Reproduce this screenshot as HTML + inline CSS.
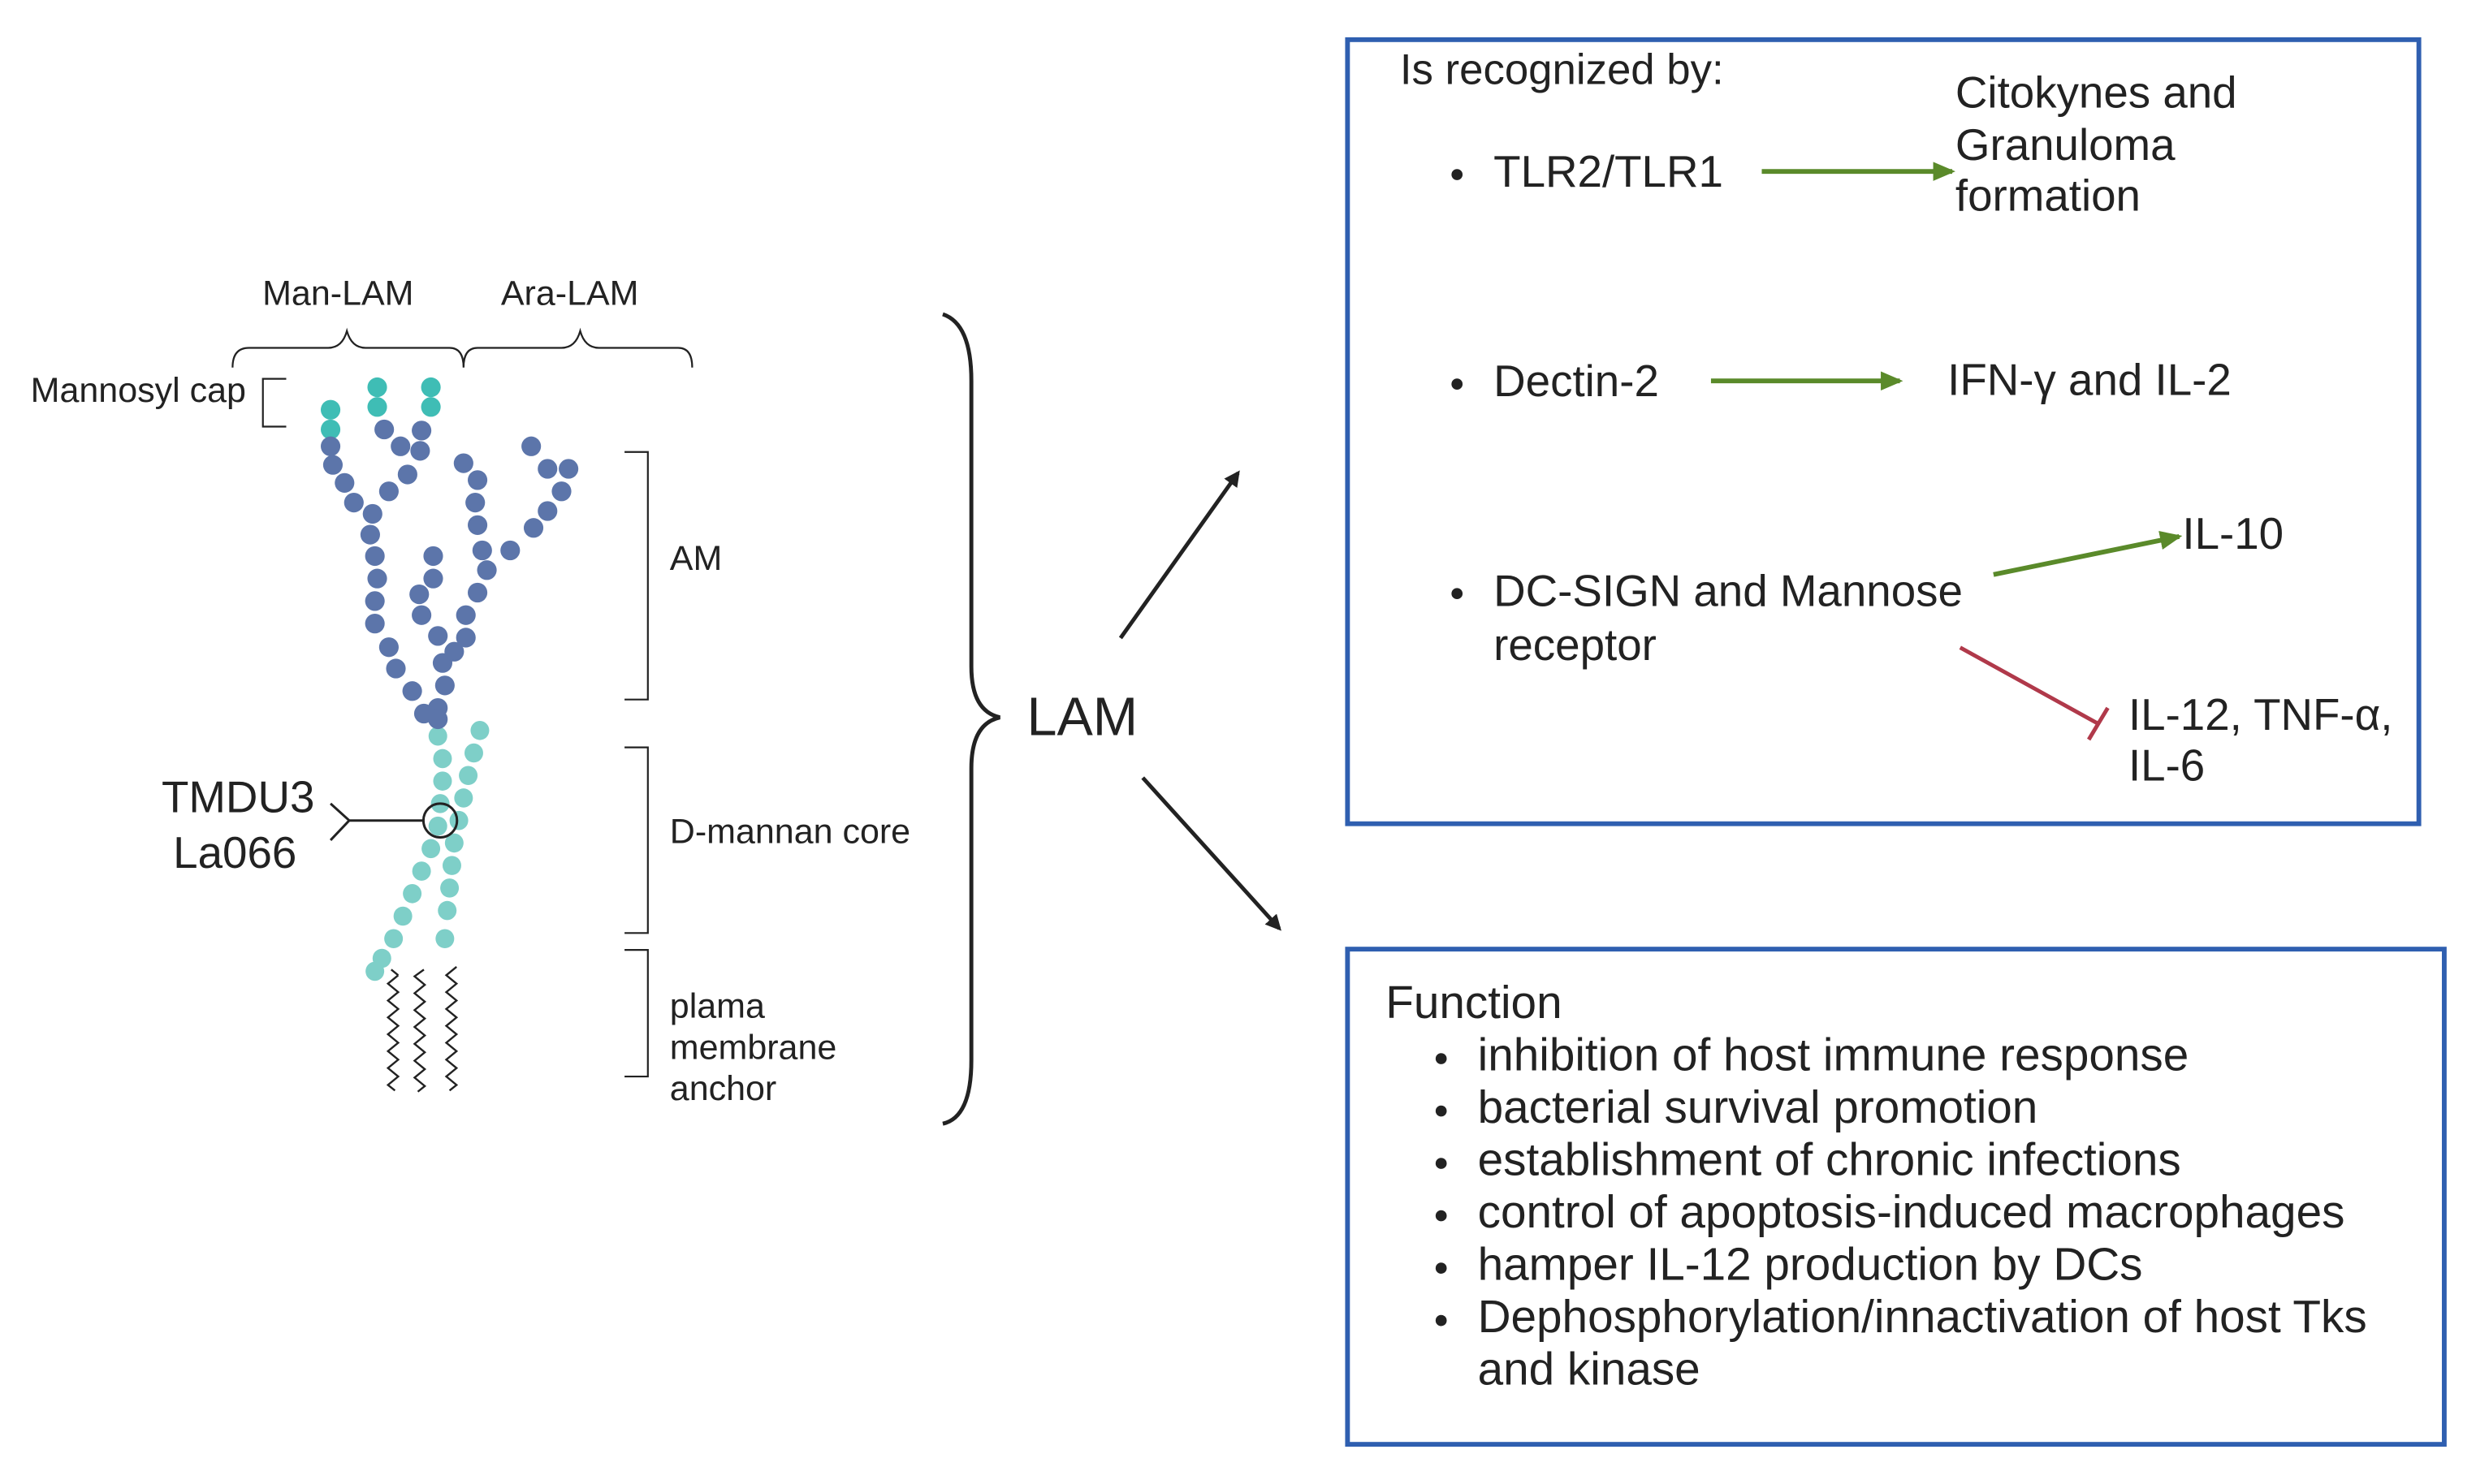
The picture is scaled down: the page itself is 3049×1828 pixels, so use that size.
<!DOCTYPE html>
<html><head><meta charset="utf-8"><style>html,body{margin:0;padding:0;background:#fff}svg{display:block}text{font-family:"Liberation Sans",sans-serif;fill:#222;dominant-baseline:central}</style></head>
<body>
<svg width="3049" height="1828" viewBox="0 0 1560 935" preserveAspectRatio="none" xmlns="http://www.w3.org/2000/svg">
<defs>
<marker id="ab" markerWidth="10" markerHeight="10" refX="8" refY="5" orient="auto" markerUnits="userSpaceOnUse"><path d="M0,0 L10,5 L0,10 Z" fill="#222"/></marker>
<marker id="ag" markerWidth="14" markerHeight="12" refX="12" refY="6" orient="auto" markerUnits="userSpaceOnUse"><path d="M0,0 L14,6 L0,12 Z" fill="#5a8a2a"/></marker>
</defs>
<g transform="translate(1,166) scale(0.294,0.3545)">
<g fill="#7ecfc8">
<ellipse cx="935" cy="840" rx="20" ry="17"/><ellipse cx="945" cy="880" rx="20" ry="17"/><ellipse cx="945" cy="920" rx="20" ry="17"/><ellipse cx="940" cy="960" rx="20" ry="17"/><ellipse cx="935" cy="1000" rx="20" ry="17"/><ellipse cx="920" cy="1040" rx="20" ry="17"/><ellipse cx="900" cy="1080" rx="20" ry="17"/><ellipse cx="880" cy="1120" rx="20" ry="17"/><ellipse cx="860" cy="1160" rx="20" ry="17"/><ellipse cx="840" cy="1200" rx="20" ry="17"/><ellipse cx="815" cy="1235" rx="20" ry="17"/><ellipse cx="800" cy="1258" rx="20" ry="17"/>
<ellipse cx="1025" cy="830" rx="20" ry="17"/><ellipse cx="1012" cy="870" rx="20" ry="17"/><ellipse cx="1000" cy="910" rx="20" ry="17"/><ellipse cx="990" cy="950" rx="20" ry="17"/><ellipse cx="980" cy="990" rx="20" ry="17"/><ellipse cx="970" cy="1030" rx="20" ry="17"/><ellipse cx="965" cy="1070" rx="20" ry="17"/><ellipse cx="960" cy="1110" rx="20" ry="17"/><ellipse cx="955" cy="1150" rx="20" ry="17"/><ellipse cx="950" cy="1200" rx="20" ry="17"/>
</g>
<g fill="#3fbdb5">
<ellipse cx="705" cy="260" rx="21" ry="17.5"/><ellipse cx="705" cy="295" rx="21" ry="17.5"/><ellipse cx="805" cy="220" rx="21" ry="17.5"/><ellipse cx="805" cy="255" rx="21" ry="17.5"/><ellipse cx="920" cy="220" rx="21" ry="17.5"/><ellipse cx="920" cy="255" rx="21" ry="17.5"/>
</g>
<g fill="#5c75aa">
<ellipse cx="705" cy="325" rx="21" ry="17.5"/><ellipse cx="710" cy="358" rx="21" ry="17.5"/><ellipse cx="735" cy="390" rx="21" ry="17.5"/><ellipse cx="755" cy="425" rx="21" ry="17.5"/><ellipse cx="795" cy="445" rx="21" ry="17.5"/><ellipse cx="790" cy="482" rx="21" ry="17.5"/><ellipse cx="800" cy="520" rx="21" ry="17.5"/><ellipse cx="805" cy="560" rx="21" ry="17.5"/><ellipse cx="800" cy="600" rx="21" ry="17.5"/><ellipse cx="800" cy="640" rx="21" ry="17.5"/><ellipse cx="830" cy="682" rx="21" ry="17.5"/><ellipse cx="845" cy="720" rx="21" ry="17.5"/><ellipse cx="880" cy="760" rx="21" ry="17.5"/><ellipse cx="905" cy="800" rx="21" ry="17.5"/>
<ellipse cx="820" cy="295" rx="21" ry="17.5"/><ellipse cx="855" cy="325" rx="21" ry="17.5"/><ellipse cx="870" cy="375" rx="21" ry="17.5"/><ellipse cx="830" cy="405" rx="21" ry="17.5"/>
<ellipse cx="900" cy="297" rx="21" ry="17.5"/><ellipse cx="897" cy="333" rx="21" ry="17.5"/>
<ellipse cx="925" cy="520" rx="21" ry="17.5"/><ellipse cx="925" cy="560" rx="21" ry="17.5"/><ellipse cx="895" cy="588" rx="21" ry="17.5"/><ellipse cx="900" cy="625" rx="21" ry="17.5"/><ellipse cx="935" cy="662" rx="21" ry="17.5"/><ellipse cx="945" cy="710" rx="21" ry="17.5"/><ellipse cx="950" cy="750" rx="21" ry="17.5"/><ellipse cx="935" cy="790" rx="21" ry="17.5"/>
<ellipse cx="990" cy="355" rx="21" ry="17.5"/><ellipse cx="1020" cy="385" rx="21" ry="17.5"/><ellipse cx="1015" cy="425" rx="21" ry="17.5"/><ellipse cx="1020" cy="465" rx="21" ry="17.5"/><ellipse cx="1030" cy="510" rx="21" ry="17.5"/><ellipse cx="1040" cy="545" rx="21" ry="17.5"/><ellipse cx="1020" cy="585" rx="21" ry="17.5"/><ellipse cx="995" cy="625" rx="21" ry="17.5"/><ellipse cx="995" cy="665" rx="21" ry="17.5"/><ellipse cx="970" cy="690" rx="21" ry="17.5"/>
<ellipse cx="1135" cy="325" rx="21" ry="17.5"/><ellipse cx="1170" cy="365" rx="21" ry="17.5"/><ellipse cx="1215" cy="365" rx="21" ry="17.5"/><ellipse cx="1200" cy="405" rx="21" ry="17.5"/><ellipse cx="1170" cy="440" rx="21" ry="17.5"/><ellipse cx="1140" cy="470" rx="21" ry="17.5"/><ellipse cx="1090" cy="510" rx="21" ry="17.5"/>
<ellipse cx="935" cy="810" rx="21" ry="17.5"/>
</g>
<g fill="none" stroke="#222" stroke-width="2.2">
<ellipse cx="940" cy="990" rx="36" ry="30" stroke-width="3" vector-effect="non-scaling-stroke"/>
<path stroke-width="3" vector-effect="non-scaling-stroke" d="M904,990 H745 M705,960 L745,990 L705,1025"/>
<path stroke-width="2.4" vector-effect="non-scaling-stroke" d="M850,1265 l-15,-10 M850,1265 l-22,15 l22,15 l-22,15 l22,15 l-22,15 l22,15 l-22,15 l22,15 l-22,15 l22,15 l-22,15 l22,15 l-22,15 l15,10"/>
<path stroke-width="2.4" vector-effect="non-scaling-stroke" d="M905,1255 l-20,12 l22,15 l-22,15 l22,15 l-22,15 l22,15 l-22,15 l22,15 l-22,15 l22,15 l-22,15 l22,15 l-22,15 l22,15 l-15,10"/>
<path stroke-width="2.4" vector-effect="non-scaling-stroke" d="M975,1250 l-22,15 l22,15 l-22,15 l22,15 l-22,15 l22,15 l-22,15 l22,15 l-22,15 l22,15 l-22,15 l22,15 l-22,15 l22,15 l-15,10"/>
<path vector-effect="non-scaling-stroke" d="M495,185 Q495,150 530,150 H700 Q730,150 740,120 Q750,150 780,150 H960 Q990,150 990,185 Q990,150 1020,150 H1200 Q1230,150 1240,120 Q1250,150 1280,150 H1450 Q1480,150 1480,185"/>
<path vector-effect="non-scaling-stroke" d="M610,205 H560 V290 H610"/>
<path vector-effect="non-scaling-stroke" d="M1335,335 H1385 V775 H1335"/>
<path vector-effect="non-scaling-stroke" d="M1335,860 H1385 V1190 H1335"/>
<path vector-effect="non-scaling-stroke" d="M1335,1220 H1385 V1445 H1335"/>
</g>
</g>
<text x="213" y="185" font-size="22" text-anchor="middle">Man-LAM</text>
<text x="359" y="185" font-size="22" text-anchor="middle">Ara-LAM</text>
<text x="155" y="246" font-size="22" text-anchor="end">Mannosyl cap</text>
<text x="150" y="502" font-size="28" text-anchor="middle">TMDU3</text>
<text x="148" y="537" font-size="28" text-anchor="middle">La066</text>
<text x="422" y="352" font-size="22">AM</text>
<text x="422" y="524" font-size="22">D-mannan core</text>
<text x="422" y="634" font-size="22">plama</text>
<text x="422" y="660" font-size="22">membrane</text>
<text x="422" y="686" font-size="22">anchor</text>
<path d="M594,198 Q612,204 612,240 V420 Q612,448 630,452 Q612,456 612,484 V668 Q612,704 594,708" fill="none" stroke="#222" stroke-width="2.5"/>
<text x="647" y="452" font-size="34">LAM</text>
<line x1="706" y1="402" x2="780" y2="298" stroke="#222" stroke-width="2.5" marker-end="url(#ab)"/>
<line x1="720" y1="490" x2="806" y2="585" stroke="#222" stroke-width="2.5" marker-end="url(#ab)"/>
<rect x="849" y="25" width="675" height="494" fill="none" stroke="#2f5fb0" stroke-width="3"/>
<rect x="849" y="598" width="691" height="312" fill="none" stroke="#2f5fb0" stroke-width="3"/>
<g font-size="28">
<text x="882" y="44" font-size="27">Is recognized by:</text>
<circle cx="918" cy="110" r="3.5" fill="#222"/><text x="941" y="108">TLR2/TLR1</text>
<circle cx="918" cy="242" r="3.5" fill="#222"/><text x="941" y="240">Dectin-2</text>
<circle cx="918" cy="374" r="3.5" fill="#222"/><text x="941" y="372">DC-SIGN and Mannose</text>
<text x="941" y="406">receptor</text>
<text x="1232" y="58">Citokynes and</text>
<text x="1232" y="91">Granuloma</text>
<text x="1232" y="123">formation</text>
<text x="1227" y="239">IFN-γ and IL-2</text>
<text x="1375" y="336">IL-10</text>
<text x="1341" y="450">IL-12, TNF-α,</text>
<text x="1341" y="482">IL-6</text>
</g>
<g font-size="29">
<text x="873" y="632">Function</text>
<circle cx="908" cy="667" r="3.5" fill="#222"/><text x="931" y="665">inhibition of  host immune response</text>
<circle cx="908" cy="700" r="3.5" fill="#222"/><text x="931" y="698">bacterial survival promotion</text>
<circle cx="908" cy="733" r="3.5" fill="#222"/><text x="931" y="731">establishment of chronic infections</text>
<circle cx="908" cy="766" r="3.5" fill="#222"/><text x="931" y="764">control of apoptosis-induced macrophages</text>
<circle cx="908" cy="799" r="3.5" fill="#222"/><text x="931" y="797">hamper IL-12 production by DCs</text>
<circle cx="908" cy="832" r="3.5" fill="#222"/><text x="931" y="830">Dephosphorylation/innactivation of host  Tks</text>
<text x="931" y="863">and kinase</text>
</g>
<line x1="1110" y1="108" x2="1230" y2="108" stroke="#5a8a2a" stroke-width="3" marker-end="url(#ag)"/>
<line x1="1078" y1="240" x2="1197" y2="240" stroke="#5a8a2a" stroke-width="3" marker-end="url(#ag)"/>
<line x1="1256" y1="362" x2="1373" y2="338" stroke="#5a8a2a" stroke-width="3" marker-end="url(#ag)"/>
<line x1="1235" y1="408" x2="1322" y2="456" stroke="#b0394a" stroke-width="2.5"/>
<line x1="1316" y1="466" x2="1328" y2="446" stroke="#b0394a" stroke-width="2.5"/>
</svg>
</body></html>
